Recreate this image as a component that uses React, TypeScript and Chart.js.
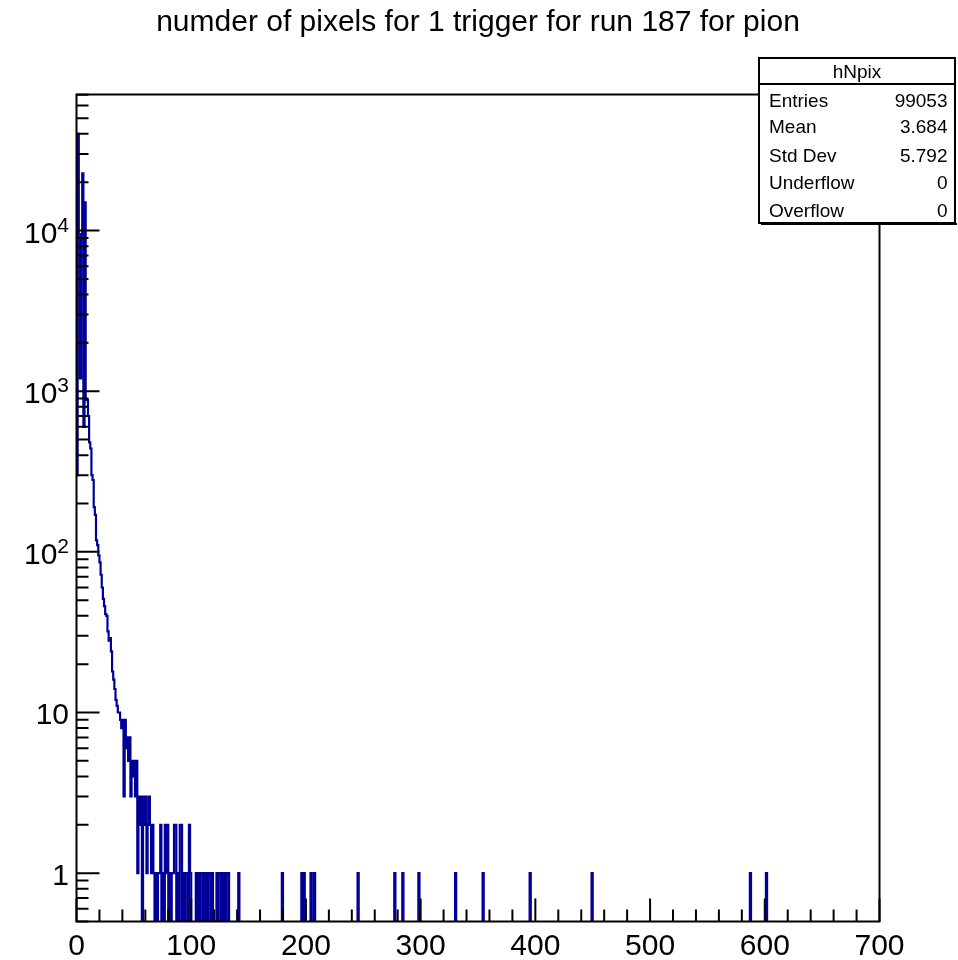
import React, { useEffect, useRef } from "react";
import { Chart, registerables } from "chart.js";

Chart.register(...registerables);

const TITLE = "numder of pixels for 1 trigger for run 187 for pion";
const HIST_NAME = "hNpix";
const X_MIN = 0;
const X_MAX = 700;
const N_BINS = 700;
const Y_MIN = 0.5;
const Y_MAX = 70300;
// empty bins are drawn below the visible range (clipped at the frame), as ROOT does
const EMPTY_BIN_DRAW_VALUE = 0.05;

// counts of bins 0..141 (bin width 1)
const lowBinCounts = [
  300, 40000, 9000, 1200, 9500, 22700, 600, 15000, 890, 880,
  700, 480, 440, 300, 280, 190, 170, 118, 110, 95,
  86, 72, 60, 51, 46, 41, 40, 32, 28, 29,
  24, 18, 16, 14, 12, 11, 10, 10, 9, 8,
  9, 3, 9, 6, 7, 5, 7, 3, 5, 4,
  5, 3, 5, 1, 3, 2, 3, 0, 3, 2,
  3, 1, 2, 3, 2, 1, 2, 1, 0, 1,
  0, 1, 1, 2, 0, 1, 0, 2, 1, 2,
  0, 1, 0, 1, 1, 2, 2, 0, 1, 0,
  2, 2, 0, 1, 0, 1, 1, 0, 2, 1,
  0, 0, 0, 0, 1, 0, 1, 0, 1, 1,
  0, 1, 0, 1, 0, 1, 1, 0, 1, 0,
  0, 0, 1, 0, 1, 1, 0, 1, 0, 1,
  0, 1, 1, 0, 0, 0, 0, 0, 0, 0,
  0, 1,
];

// isolated far-tail entries
const isolatedBins = [179, 196, 198, 204, 207, 245, 277, 284, 298, 330, 354, 395, 449, 587, 601];
const isolatedCounts = [1, 1, 1, 1, 1, 1, 1, 1, 1, 1, 1, 1, 1, 1, 1];

const xTickLabels = ["0", "100", "200", "300", "400", "500", "600", "700"];
const xTickValues = [0, 100, 200, 300, 400, 500, 600, 700];
const yTickValues = [1, 10, 100, 1000, 10000];
const yTickBase = ["1", "10", "10", "10", "10"];
const yTickExp = ["", "", "2", "3", "4"];

const statLabels = ["Entries", "Mean", "Std Dev", "Underflow", "Overflow"];
const statValues = ["99053", "3.684", "5.792", "0", "0"];

const FONT = '"Liberation Sans", Arial, Helvetica, sans-serif';

function buildCounts(): number[] {
  const c = new Array(N_BINS).fill(0);
  lowBinCounts.forEach((v, i) => (c[i] = v));
  isolatedBins.forEach((b, i) => (c[b] += isolatedCounts[i]));
  return c;
}

const rootPlugin = {
  id: "rootDecor",
  afterDraw(chart: any) {
    const ctx: CanvasRenderingContext2D = chart.ctx;
    const xs = chart.scales.x;
    const ys = chart.scales.y;
    const a = chart.chartArea;
    ctx.save();
    ctx.strokeStyle = "#000";
    ctx.fillStyle = "#000";
    ctx.lineWidth = 2;
    ctx.lineCap = "butt";

    // frame
    ctx.strokeRect(a.left, a.top, a.right - a.left, a.bottom - a.top);

    // y ticks
    ctx.beginPath();
    for (let d = -1; d <= 5; d++) {
      for (let m = 1; m <= 9; m++) {
        const v = m * Math.pow(10, d);
        if (v < Y_MIN || v > Y_MAX) continue;
        const py = ys.getPixelForValue(v);
        const len = m === 1 ? 23 : 12;
        ctx.moveTo(a.left, py);
        ctx.lineTo(a.left + len, py);
      }
    }
    // x ticks
    for (let v = X_MIN; v <= X_MAX; v += 20) {
      const px = xs.getPixelForValue(v);
      const len = v % 100 === 0 ? 23 : 12;
      ctx.moveTo(px, a.bottom);
      ctx.lineTo(px, a.bottom - len);
    }
    ctx.stroke();

    // x labels
    ctx.font = `30px ${FONT}`;
    ctx.textAlign = "center";
    ctx.textBaseline = "alphabetic";
    xTickValues.forEach((v, i) => {
      ctx.fillText(xTickLabels[i], xs.getPixelForValue(v), 955);
    });

    // y labels
    const rightEdge = 69;
    yTickValues.forEach((v, i) => {
      const py = ys.getPixelForValue(v);
      const exp = yTickExp[i];
      let mainRight = rightEdge;
      if (exp) {
        ctx.font = `21px ${FONT}`;
        const w = ctx.measureText(exp).width;
        ctx.textAlign = "left";
        ctx.fillText(exp, rightEdge - w, py + 1);
        mainRight = rightEdge - w;
      }
      ctx.font = `30px ${FONT}`;
      ctx.textAlign = "right";
      ctx.fillText(yTickBase[i], mainRight, py + 12);
    });

    // title
    ctx.font = `30px ${FONT}`;
    ctx.textAlign = "center";
    ctx.fillText(TITLE, 478, 31);

    // stat box
    const bx = 759, by = 58, bw = 196, bh = 165, hy = 84;
    ctx.fillStyle = "#fff";
    ctx.fillRect(bx, by, bw, bh);
    ctx.fillStyle = "#000";
    ctx.lineWidth = 2;
    ctx.strokeRect(bx, by, bw, bh);
    ctx.fillRect(bx + 2, by + bh, bw, 2);
    ctx.beginPath();
    ctx.moveTo(bx, hy);
    ctx.lineTo(bx + bw, hy);
    ctx.stroke();
    ctx.font = `19px ${FONT}`;
    ctx.textAlign = "center";
    ctx.fillText(HIST_NAME, bx + bw / 2, 78);
    const baselines = [107, 133, 161.5, 189, 217];
    statLabels.forEach((s, i) => {
      ctx.textAlign = "left";
      ctx.fillText(s, 769, baselines[i]);
      ctx.textAlign = "right";
      ctx.fillText(statValues[i], 947.5, baselines[i]);
    });
    ctx.restore();
  },
};

export default function App() {
  const ref = useRef<HTMLCanvasElement | null>(null);
  useEffect(() => {
    if (!ref.current) return;
    const counts = buildCounts();
    const binWidth = (X_MAX - X_MIN) / N_BINS;
    const points = counts.map((c, i) => ({
      x: X_MIN + i * binWidth,
      y: c > 0 ? c : EMPTY_BIN_DRAW_VALUE,
    }));
    points.push({ x: X_MAX, y: EMPTY_BIN_DRAW_VALUE });
    const chart = new Chart(ref.current, {
      type: "line",
      data: {
        datasets: [
          {
            data: points,
            borderColor: "#000099",
            borderWidth: 2.2,
            pointRadius: 0,
            stepped: true,
            fill: false,
            tension: 0,
            clip: 0,
          },
        ],
      },
      options: {
        responsive: false,
        animation: false,
        events: [],
        layout: { padding: { left: 76.5, right: 78.5, top: 94.5, bottom: 38.5 } },
        scales: {
          x: { type: "linear", min: X_MIN, max: X_MAX, display: false },
          y: { type: "logarithmic", min: Y_MIN, max: Y_MAX, display: false },
        },
        plugins: {
          legend: { display: false },
          tooltip: { enabled: false },
          title: { display: false },
        },
      },
      plugins: [rootPlugin],
    });
    return () => chart.destroy();
  }, []);
  return (
    <div style={{ position: "absolute", left: 0, top: 0, width: 958, height: 960, background: "#fff" }}>
      <canvas ref={ref} width={958} height={960} style={{ width: 958, height: 960, display: "block" }} />
    </div>
  );
}
